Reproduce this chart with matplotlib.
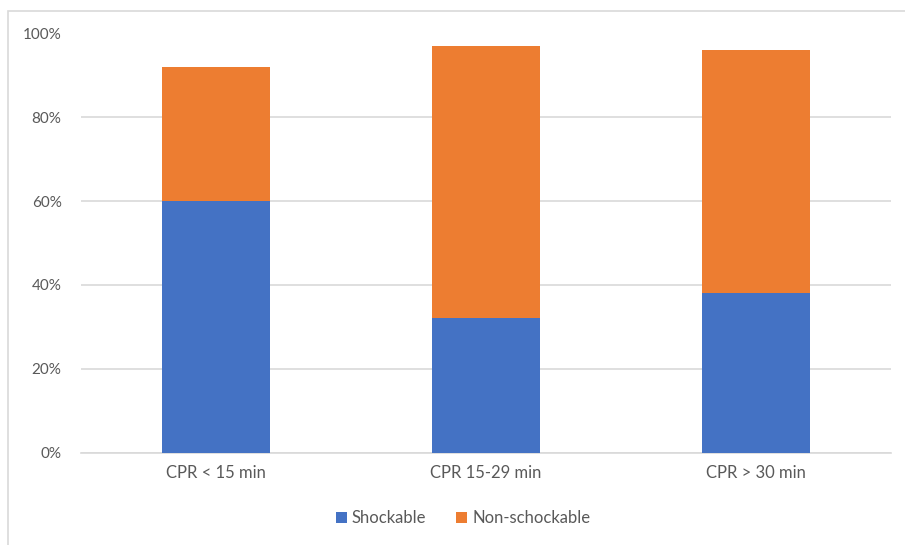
import matplotlib
matplotlib.use('Agg')
import matplotlib.pyplot as plt
from matplotlib.patches import Rectangle
from matplotlib.ticker import PercentFormatter

categories = ['CPR < 15 min', 'CPR 15-29 min', 'CPR > 30 min']
shockable = [60, 32, 38]
non_shockable = [32, 65, 58]
yticks = [0, 20, 40, 60, 80, 100]

blue = '#4472C4'
orange = '#ED7D31'
grey_text = '#595959'
grid_grey = '#D9D9D9'

plt.rcParams['font.family'] = ['Lato', 'DejaVu Sans']

fig = plt.figure(figsize=(9.05, 5.45), dpi=100)
ax = fig.add_axes([81 / 905, 1 - 452.5 / 545, 810 / 905, 419 / 545])

# outer chart frame
fig.patches.append(Rectangle((8 / 905, -0.01), 1.0, 1 - 11 / 545 + 0.01,
                             transform=fig.transFigure, fill=False,
                             edgecolor='#D9D9D9', linewidth=1.2))

x = range(len(categories))
ax.bar(x, shockable, width=0.4, color=blue, label='Shockable', zorder=3)
ax.bar(x, non_shockable, width=0.4, bottom=shockable, color=orange,
       label='Non-schockable', zorder=3)

ax.set_xlim(-0.5, 2.5)
ax.set_ylim(0, 100)
ax.set_yticks(yticks)
ax.yaxis.set_major_formatter(PercentFormatter(decimals=0))
ax.set_xticks(list(x))
ax.set_xticklabels(categories)
ax.grid(axis='y', color=grid_grey, linewidth=1.2, zorder=0)
for side in ['top', 'right', 'left']:
    ax.spines[side].set_visible(False)
ax.spines['bottom'].set_color(grid_grey)
ax.spines['bottom'].set_linewidth(1.2)
ax.tick_params(axis='both', length=0, colors=grey_text)
ax.tick_params(axis='y', pad=14, labelsize=11)
ax.tick_params(axis='x', pad=9, labelsize=12)

fig.legend(loc='center', bbox_to_anchor=(463 / 905, 1 - 518 / 545), ncol=2,
           frameon=False, fontsize=12, labelcolor=grey_text,
           handlelength=0.65, handleheight=0.65, handletextpad=0.3,
           columnspacing=1.8)

fig.savefig('out.png', dpi=100, facecolor='white')
